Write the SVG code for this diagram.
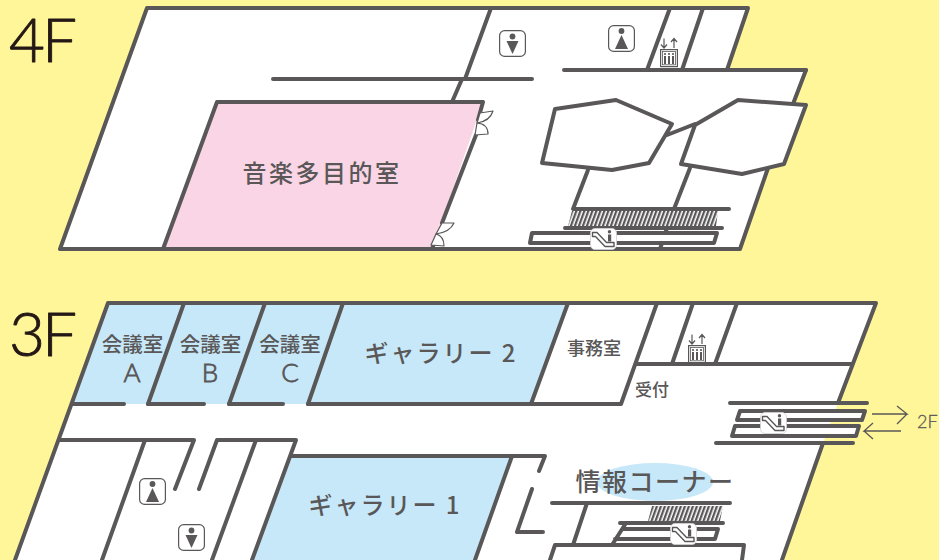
<svg xmlns="http://www.w3.org/2000/svg" xmlns:xlink="http://www.w3.org/1999/xlink" width="939" height="560" viewBox="0 0 939 560">
<style>
.w{fill:none;stroke:#595757;stroke-width:4;stroke-linecap:round;stroke-linejoin:round}
.f{fill:#fff;stroke:#595757;stroke-width:4;stroke-linejoin:round}
.d{fill:#fff;stroke:#595757;stroke-width:1.2;stroke-linejoin:round}
.ic{fill:#fff;stroke:#595757;stroke-width:1.2}
.g{fill:#595757}
.t{font-family:"Noto Sans CJK JP","Noto Sans",sans-serif;fill:#595757;font-weight:500}
.l{font-family:"Lato","Noto Sans",sans-serif;fill:#595757;font-weight:300;stroke:#595757;stroke-width:.8}
.big{font-family:"Lato","Noto Sans",sans-serif;fill:#231815;font-weight:300;font-size:62px;letter-spacing:-3px;stroke:#231815;stroke-width:.9;stroke-linejoin:round}
</style>
<defs>
<pattern id="hatch" width="4" height="20" patternUnits="userSpaceOnUse" patternTransform="skewX(-20)"><rect width="2.4" height="20" fill="#595757"/></pattern>
<symbol id="man" viewBox="0 0 27 27" overflow="visible"><rect class="ic" x=".6" y=".6" width="25.8" height="25.8" rx="5"/><circle class="g" cx="13.5" cy="6.5" r="2.9"/><path class="g" d="M7.500 11H19.500L13.500 24Z"/></symbol>
<symbol id="woman" viewBox="0 0 27 27" overflow="visible"><rect class="ic" x=".6" y=".6" width="25.800" height="25.800" rx="5"/><circle class="g" cx="13.500" cy="6" r="2.900"/><path class="g" d="M13.500 10L20 24H7Z"/></symbol>
<symbol id="ev" viewBox="0 0 18 30" overflow="visible"><g fill="none" stroke="#595757" stroke-width="1.200"><path d="M4 1.500V11M1 7.500L4 11L7 7.500M14 11V1.500M11 5L14 1.500L17 5"/><rect x=".6" y="12.600" width="16.800" height="17"/><rect x="2.500" y="14.500" width="13" height="13.300" stroke-width=".8"/></g><g class="g"><circle cx="5" cy="17" r="1.100"/><circle cx="9" cy="17" r="1.100"/><circle cx="13" cy="17" r="1.100"/><rect x="4" y="19" width="2" height="8"/><rect x="8" y="19" width="2" height="8"/><rect x="12" y="19" width="2" height="8"/></g></symbol>
<symbol id="esc" viewBox="0 0 27 22" overflow="visible"><rect x=".5" y=".5" width="26" height="21" rx="4.500" fill="#fff" stroke="#d0d0d0" stroke-width=".8"/><path d="M2.500 4.500H7L16.500 14.500H24V18.500H15L5.500 8.500H2.500Z" fill="#fff" stroke="#595757" stroke-width="1.400" stroke-linejoin="round"/><circle class="g" cx="19.500" cy="3.800" r="1.700"/><rect class="g" x="18" y="6.500" width="3.200" height="7"/></symbol>
</defs>
<rect width="939" height="560" fill="#fff599"/>

<g id="floor-4f">
<path d="M147 8H748L727 70H806L793 104L806 105L784 164L768 168L740 249H60Z" fill="#fff"/>
<path d="M217 102H483L432 249H163Z" fill="#f9d5e5"/>
</g>
<g id="floor-3f">
<path d="M108 303H876L838 403L823 443L782 560H15Z" fill="#fff"/>
<path d="M108 303H568L531 404H73Z" fill="#c7e8f9"/>
<path d="M291 456H512L475 560H252Z" fill="#c7e8f9"/>
<ellipse cx="655" cy="482" rx="58" ry="19" fill="#c7e8f9"/>
</g>

<g id="connectors">
<path class="w" d="M478 120L483 102H217L163 249M476 135L442 223M60 249L147 8H748L727 70M806 70L793 104M768 168L740 249H60M432 249L437 236"/>
<path class="w" d="M273 79H532M491 8L465 79M462 79L452 102M564 70H806M670 8L647 70M703 8L682 70"/>
<path class="w" d="M667 135L695 124M588 170L573 209H729M690 168L674 209M565 228H722M667 228L660 249"/>
<path class="w" d="M108 303H876L838 403M823 443L782 560M108 303L15 560M184 303L148 404M265 303L229 404M343 303L308 404M568 303L531 404H621L657 303M693 303L672 364M737 303L715 364M637 364H852"/>
<path class="w" d="M73 404H124M148 404H204M229 404H283M308 404H531M60 440H194L175 489M199 489L217 440H296L252 560M145 440L102 560M256 440L212 560M291 456H545L539 471M512 456L475 560M532 489L517 532H543"/>
<path class="w" d="M730 403H867M716 443H853M552 503H730M587 503L573 545M620 523H723M626 523L612 545M550 560L555 545H744L742 560M623 529H718L715 539H615"/>
<path class="f" d="M532 233H717L714 243H530Z"/>
<path class="f" d="M555 109L616 100L672 124L649 163L612 170L542 163Z"/>
<path class="f" d="M738 100L806 105L784 164L742 174L681 164L695 125Z"/>
<path class="f" d="M740 411H865L862 420H737Z"/>
<path class="f" d="M735 426H859L856 436H732Z"/>
<path d="M572 211H718L716 226H568Z" fill="url(#hatch)"/>
<path d="M652 506H723L720 521H648Z" fill="url(#hatch)"/>
<path d="M872 414H907L897 406M907 414L897 424M901 431H864L873 423M864 431L873 439" fill="none" stroke="#595757" stroke-width="1.300"/>
</g>

<g id="door-4f-a"><path class="d" d="M480 113L493 111Q490 121 477 123Z"/><path class="d" d="M477 123Q488 124 488 134L475 135Z"/></g>
<g id="door-4f-b"><path class="d" d="M442 223L454 223Q450 232 436 234Z"/><path class="d" d="M436 234Q444 236 444 246L431 245Z"/></g>

<g id="icon-man-4f"><use xlink:href="#man" x="499" y="30" width="27" height="27"/></g>
<g id="icon-woman-4f"><use xlink:href="#woman" x="608" y="25" width="27" height="27"/></g>
<g id="icon-ev-4f"><use xlink:href="#ev" x="660" y="37" width="18" height="30"/></g>
<g id="icon-esc-4f"><use xlink:href="#esc" x="590" y="228" width="27" height="22"/></g>
<g id="icon-woman-3f"><use xlink:href="#woman" x="139" y="478" width="27" height="27"/></g>
<g id="icon-man-3f"><use xlink:href="#man" x="178" y="524" width="27" height="27"/></g>
<g id="icon-ev-3f"><use xlink:href="#ev" x="688" y="333" width="18" height="30"/></g>
<g id="icon-esc-3f-a"><use xlink:href="#esc" x="760" y="412" width="27" height="22"/></g>
<g id="icon-esc-3f-b"><use xlink:href="#esc" x="670" y="523" width="27" height="22"/></g>

<g id="labels">
<text class="big" x="9" y="62">4F</text>
<text class="big" x="9" y="356">3F</text>
<text class="t" x="322" y="182" font-size="24" letter-spacing="2.500" text-anchor="middle">音楽多目的室</text>
<text class="t" x="132.500" y="352" font-size="20.500" text-anchor="middle">会議室</text>
<text class="l" x="132" y="382" font-size="26" text-anchor="middle">A</text>
<text class="t" x="210.500" y="352" font-size="20.500" text-anchor="middle">会議室</text>
<text class="l" x="210" y="382" font-size="26" text-anchor="middle">B</text>
<text class="t" x="290" y="352" font-size="20.500" text-anchor="middle">会議室</text>
<text class="l" x="290" y="382" font-size="26" text-anchor="middle">C</text>
<text class="t" x="441" y="362" font-size="24" letter-spacing="2" text-anchor="middle">ギャラリー 2</text>
<text class="t" x="594" y="355" font-size="18" text-anchor="middle">事務室</text>
<text class="t" x="652" y="396" font-size="17" text-anchor="middle">受付</text>
<text class="t" x="655" y="491" font-size="25" letter-spacing="1.500" text-anchor="middle">情報コーナー</text>
<text class="t" x="385" y="514" font-size="24" letter-spacing="2" text-anchor="middle">ギャラリー 1</text>
<text class="l" x="917" y="428" font-size="18" style="stroke-width:.3">2F</text>
</g>
</svg>
